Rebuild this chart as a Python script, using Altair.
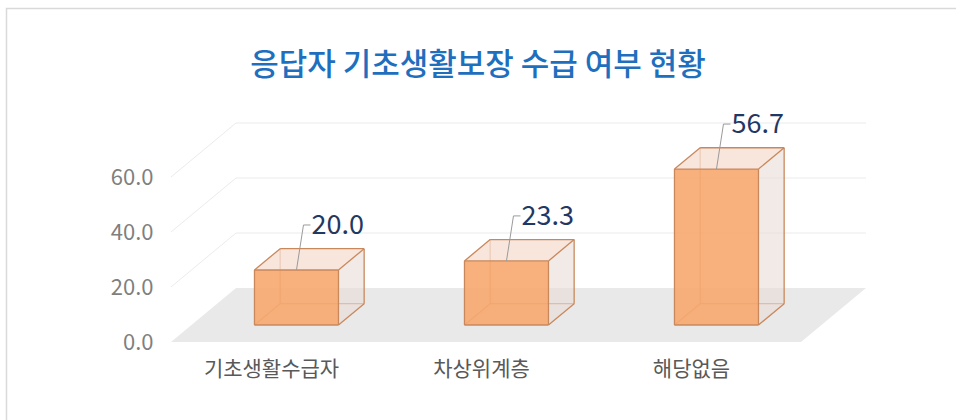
import json
import altair as alt
import pandas as pd

# ---------------- data ----------------
categories = ["기초생활수급자", "차상위계층", "해당없음"]
values = [20.0, 23.3, 56.7]
y_ticks = [0, 20, 40, 60]
grid_values = [20, 40, 60]
title_text = "응답자 기초생활보장 수급 여부 현황"

# ---------------- layout / style constants ----------------
W, H = 956, 420
PX_X = 210.0      # pixels per category step
PX_Y = 2.75       # pixels per value unit
X0_PX = 276.0     # pixel x of first category (front plane)
Y0_PX = 342.0     # pixel y of value 0 (front plane)
DEPTH_DX = 65.0   # floor depth, pixels right
DEPTH_DY = 54.0   # floor depth, pixels up
Z_F, Z_B = 0.315, 0.71   # bar front / back depth (fraction of floor depth)
HALF_W = 0.2      # half bar width in category units
FONT = "Noto Sans CJK KR"

EDGE = "#c8885c"
FRONT = "#f7a86f"
TOP = "#f6ddd0"
SIDE = "#e9dcd6"


def sx(z):
    return z * DEPTH_DX / PX_X


def sy(z):
    return z * DEPTH_DY / PX_Y


xdom = [-X0_PX / PX_X, (W - X0_PX) / PX_X]
ydom = [-(H - Y0_PX) / PX_Y, Y0_PX / PX_Y]
xs = alt.Scale(domain=xdom, nice=False, zero=False)
ys = alt.Scale(domain=ydom, nice=False, zero=False)
n = len(categories)
label_expr = json.dumps(categories, ensure_ascii=False) + "[datum.value]"

X_AX = alt.Axis(
    values=list(range(n)), labelExpr=label_expr, title=None, grid=False,
    domain=False, ticks=False, tickSize=0, offset=-(H - Y0_PX),
    labelPadding=16, labelFontSize=21, labelColor="#595959", labelFont=FONT,
    labelOffset=-5, zindex=1)
Y_AX = alt.Axis(
    values=y_ticks, format=".1f", title=None, grid=False, domain=False,
    ticks=False, tickSize=0, offset=-(X0_PX - 0.5 * PX_X),
    labelPadding=18, labelFontSize=22, labelColor="#7f7f7f", labelFont=FONT,
    zindex=1)


def X(field):
    return alt.X(field, scale=xs, axis=X_AX, title=None)


def Y(field):
    return alt.Y(field, scale=ys, axis=Y_AX, title=None)


def corner(i, v, z, side, top):
    x = i + sx(z) + (HALF_W if side == "R" else -HALF_W)
    y = (v if top else 0.0) + sy(z)
    return x, y


# ---------------- derived tables ----------------
hidden_edges, visible_edges = [], []
front_rows, top_rows, side_rows, label_rows = [], [], [], []
hid_spec = [((Z_B, "L", 0), (Z_B, "R", 0)), ((Z_B, "L", 0), (Z_B, "L", 1)),
            ((Z_F, "L", 0), (Z_B, "L", 0))]
vis_spec = [((Z_F, "L", 0), (Z_F, "R", 0)), ((Z_F, "R", 0), (Z_F, "R", 1)),
            ((Z_F, "R", 1), (Z_F, "L", 1)), ((Z_F, "L", 1), (Z_F, "L", 0)),
            ((Z_F, "L", 1), (Z_B, "L", 1)), ((Z_B, "L", 1), (Z_B, "R", 1)),
            ((Z_F, "R", 1), (Z_B, "R", 1)), ((Z_B, "R", 1), (Z_B, "R", 0)),
            ((Z_F, "R", 0), (Z_B, "R", 0))]
for i, (c, v) in enumerate(zip(categories, values)):
    for spec, out in ((hid_spec, hidden_edges), (vis_spec, visible_edges)):
        for a, b in spec:
            x1, y1 = corner(i, v, *a)
            x2, y2 = corner(i, v, *b)
            out.append({"bar": c, "x": x1, "y": y1, "x2": x2, "y2": y2})
    fl, fb = corner(i, v, Z_F, "L", 0)
    fr, ft = corner(i, v, Z_F, "R", 1)
    front_rows.append({"bar": c, "x": fl, "x2": fr, "y": ft, "y2": fb})
    for z in (Z_F, Z_B):
        l, t = corner(i, v, z, "L", 1)
        r, _ = corner(i, v, z, "R", 1)
        top_rows.append({"bar": c, "y": t, "x": l, "x2": r})
        rx, rt = corner(i, v, z, "R", 1)
        _, rb = corner(i, v, z, "R", 0)
        side_rows.append({"bar": c, "x": rx, "y": rt, "y2": rb})
    label_rows.append({"bar": c, "x": i + sx(Z_F), "y": v + sy(Z_F),
                       "label": f"{v:.1f}"})

floor_rows = [
    {"y": sy(0), "x": -0.5 + sx(0), "x2": n - 0.5 + sx(0)},
    {"y": sy(1), "x": -0.5 + sx(1), "x2": n - 0.5 + sx(1)},
]
grid_rows = []
for g in grid_values:
    grid_rows.append({"x": -0.5 + sx(1), "x2": n - 0.5 + sx(1),
                      "y": g + sy(1), "y2": g + sy(1)})
    grid_rows.append({"x": -0.5 + sx(0), "x2": -0.5 + sx(1),
                      "y": g + sy(0), "y2": g + sy(1)})

axis_df = pd.DataFrame({"x": list(range(n)), "y": [0.0] * n})

# ---------------- layers ----------------
border = alt.Chart(alt.Data(values=[{"a": 1}])).mark_rect(
    fillOpacity=0, stroke="#d9d9d9", strokeWidth=1.5
).encode(x=alt.value(6.5), y=alt.value(8.5), x2=alt.value(990), y2=alt.value(450))

axes = alt.Chart(axis_df).mark_point(opacity=0).encode(x=X("x:Q"), y=Y("y:Q"))

floor = alt.Chart(pd.DataFrame(floor_rows)).mark_area(
    orient="horizontal", color="#e9e9e9"
).encode(y=Y("y:Q"), x=X("x:Q"), x2="x2:Q")

grid = alt.Chart(pd.DataFrame(grid_rows)).mark_rule(
    color="#ebebeb", strokeWidth=1
).encode(x=X("x:Q"), x2="x2:Q", y=Y("y:Q"), y2="y2:Q")


def edges(rows, color, opacity=1.0):
    return alt.Chart(pd.DataFrame(rows)).mark_rule(
        color=color, strokeWidth=1.3, opacity=opacity
    ).encode(x=X("x:Q"), x2="x2:Q", y=Y("y:Q"), y2="y2:Q")


top_face = alt.Chart(pd.DataFrame(top_rows)).mark_area(
    orient="horizontal", color=TOP, opacity=0.75
).encode(y=Y("y:Q"), x=X("x:Q"), x2="x2:Q", detail="bar:N")

side_face = alt.Chart(pd.DataFrame(side_rows)).mark_area(
    color=SIDE, opacity=0.6
).encode(x=X("x:Q"), y=Y("y:Q"), y2="y2:Q", detail="bar:N")

front_face = alt.Chart(pd.DataFrame(front_rows)).mark_rect(
    color=FRONT, opacity=0.9
).encode(x=X("x:Q"), x2="x2:Q", y=Y("y:Q"), y2="y2:Q")

lab_df = pd.DataFrame(label_rows)
leader1 = alt.Chart(lab_df).mark_rule(
    color="#9a9a9a", strokeWidth=1, x2Offset=7, y2Offset=-45
).encode(x=X("x:Q"), x2="x:Q", y=Y("y:Q"), y2="y:Q")
leader2 = alt.Chart(lab_df).mark_rule(
    color="#9a9a9a", strokeWidth=1, xOffset=7, yOffset=-45, x2Offset=14,
    y2Offset=-45
).encode(x=X("x:Q"), x2="x:Q", y=Y("y:Q"), y2="y:Q")
value_text = alt.Chart(lab_df).mark_text(
    align="left", baseline="middle", dx=15, dy=-44, fontSize=27,
    font=FONT, color="#1f3864"
).encode(x=X("x:Q"), y=Y("y:Q"), text="label:N")

title = alt.Chart(alt.Data(values=[{"t": title_text}])).mark_text(
    align="center", baseline="middle", fontSize=31, fontWeight=500,
    font=FONT, color="#1f6fbf"
).encode(x=alt.value(478), y=alt.value(66), text="t:N")

chart = alt.layer(
    border, axes, floor, grid, edges(hidden_edges, EDGE, 0.9), top_face,
    side_face, front_face, edges(visible_edges, EDGE), leader1, leader2,
    value_text, title
).properties(
    width=W, height=H, padding=0, autosize="none", background="white"
).configure_view(stroke=None)

chart.save("out.html", embed_options={"renderer": "svg", "actions": False})
